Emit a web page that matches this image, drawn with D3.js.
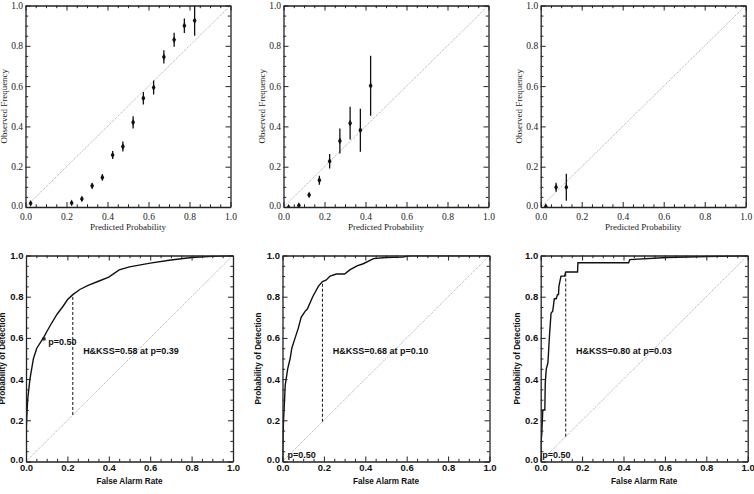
<!DOCTYPE html>
<html>
<head>
<meta charset="utf-8">
<script src="https://cdn.jsdelivr.net/npm/d3@7"></script>
<style>
  body { margin: 0; background: #fff; }
  .serif text { font-family: "Liberation Serif", "Times New Roman", serif; fill: #222; }
  .sans text { font-family: "Liberation Sans", Arial, sans-serif; font-weight: bold; fill: #111; }
  .domain { stroke: #222; stroke-width: 1.3; }
  .tick line { stroke: #222; stroke-width: 1; }
</style>
</head>
<body>
<svg id="chart" width="754" height="494"></svg>
<script>
(function () {
  'use strict';

  // reliability diagrams: bin centre, observed frequency, half error bar
  var relX1 = [0.025, 0.225, 0.275, 0.325, 0.375, 0.425, 0.475, 0.525, 0.575, 0.625, 0.675, 0.725, 0.775, 0.825];
  var relY1 = [0.018, 0.02, 0.04, 0.105, 0.147, 0.258, 0.30, 0.42, 0.54, 0.593, 0.745, 0.83, 0.90, 0.925];
  var relE1 = [0.004, 0.004, 0.005, 0.013, 0.015, 0.02, 0.025, 0.03, 0.031, 0.035, 0.033, 0.035, 0.036, 0.075];

  var relX2 = [0.025, 0.075, 0.125, 0.175, 0.225, 0.275, 0.325, 0.375, 0.425];
  var relY2 = [-0.002, 0.007, 0.06, 0.133, 0.227, 0.328, 0.416, 0.381, 0.602];
  var relE2 = [0.003, 0.005, 0.01, 0.022, 0.036, 0.062, 0.081, 0.107, 0.149];

  var relX3 = [0.025, 0.075, 0.125];
  var relY3 = [0.002, 0.098, 0.098];
  var relE3 = [0.003, 0.022, 0.067];

  // ROC curves: false alarm rate, probability of detection
  var rocF1 = [0, 0, 0.003, 0.008, 0.019, 0.036, 0.052, 0.087, 0.1, 0.12, 0.15, 0.18, 0.2, 0.226, 0.26, 0.3, 0.35, 0.4, 0.45, 0.5, 0.6, 0.7, 0.8, 0.9, 1];
  var rocH1 = [0, 0.12, 0.2, 0.3, 0.4, 0.5, 0.55, 0.605, 0.63, 0.665, 0.715, 0.755, 0.785, 0.81, 0.835, 0.855, 0.875, 0.895, 0.93, 0.945, 0.963, 0.978, 0.99, 0.996, 1];

  var rocF2 = [0, 0.002, 0.005, 0.01, 0.013, 0.025, 0.037, 0.045, 0.061, 0.077, 0.09, 0.11, 0.12, 0.146, 0.173, 0.193, 0.21, 0.23, 0.26, 0.3, 0.325, 0.36, 0.39, 0.44, 0.5, 0.58, 0.62, 0.66, 1];
  var rocH2 = [0, 0.1, 0.2, 0.3, 0.37, 0.45, 0.5, 0.55, 0.6, 0.65, 0.7, 0.73, 0.74, 0.8, 0.85, 0.873, 0.88, 0.9, 0.91, 0.91, 0.93, 0.95, 0.96, 0.985, 0.99, 0.992, 1, 1, 1];

  var rocF3 = [0, 0, 0.005, 0.01, 0.02, 0.022, 0.027, 0.035, 0.043, 0.05, 0.058, 0.066, 0.075, 0.081, 0.086, 0.088, 0.094, 0.098, 0.115, 0.121, 0.178, 0.18, 0.425, 0.43, 0.61, 1];
  var rocH3 = [0, 0.08, 0.13, 0.25, 0.25, 0.38, 0.45, 0.48, 0.62, 0.72, 0.73, 0.79, 0.79, 0.81, 0.81, 0.85, 0.88, 0.9, 0.9, 0.92, 0.92, 0.965, 0.965, 0.98, 0.99, 1];

  // best Hanssen & Kuipers skill score: false alarm rate, detection at that point
  var hkF = [0.226, 0.193, 0.121];
  var hkH = [0.81, 0.873, 0.92];
  var hkLabels = ['H&KSS=0.58 at p=0.39', 'H&KSS=0.68 at p=0.10', 'H&KSS=0.80 at p=0.03'];

  // p=0.50 marker and its label
  var p50F = [0.087, 0.004, 0.0];
  var p50H = [0.595, 0.04, 0.04];
  var p50LabelF = [0.108, 0.024, 0.007];
  var p50LabelH = [0.583, 0.03, 0.03];

  var majorTicks = [0, 0.2, 0.4, 0.6, 0.8, 1.0];
  var minorTicks = [0.05, 0.1, 0.15, 0.25, 0.3, 0.35, 0.45, 0.5, 0.55, 0.65, 0.7, 0.75, 0.85, 0.9, 0.95];

  var TOP = { lefts: [25.5, 283.5, 540.7], top: 5.5, width: 205, height: 201.5 };
  var BOTTOM = { lefts: [26, 282.5, 540.7], top: 255.5, width: 207, height: 206 };

  var svg = d3.select('#chart');
  var fmt = d3.format('.1f');

  function frame(g, x, y, w, h, xPad, yPad) {
    // labelled bottom / left axes, ticks pointing inward
    g.append('g').attr('class', 'x axis')
      .attr('transform', 'translate(0,' + h + ')')
      .call(d3.axisBottom(x).tickValues(majorTicks).tickSize(-5).tickSizeOuter(0)
        .tickPadding(xPad).tickFormat(fmt));
    g.append('g').attr('class', 'y axis')
      .call(d3.axisLeft(y).tickValues(majorTicks).tickSize(-5).tickSizeOuter(0)
        .tickPadding(yPad).tickFormat(fmt));
    g.append('g')
      .call(d3.axisTop(x).tickValues(majorTicks).tickSize(-5).tickSizeOuter(0).tickFormat(''));
    g.append('g').attr('transform', 'translate(' + w + ',0)')
      .call(d3.axisRight(y).tickValues(majorTicks).tickSize(-5).tickSizeOuter(0).tickFormat(''));

    // minor ticks
    var minors = [
      ['translate(0,' + h + ')', d3.axisBottom(x)],
      ['translate(0,0)', d3.axisTop(x)],
      ['translate(0,0)', d3.axisLeft(y)],
      ['translate(' + w + ',0)', d3.axisRight(y)]
    ];
    minors.forEach(function (m) {
      var a = g.append('g').attr('transform', m[0])
        .call(m[1].tickValues(minorTicks).tickSize(-2.7).tickFormat(''));
      a.select('.domain').remove();
    });
    g.selectAll('.tick text').attr('fill', null);
  }

  function diagonal(g, x, y) {
    g.append('line')
      .attr('x1', x(0)).attr('y1', y(0))
      .attr('x2', x(1)).attr('y2', y(1))
      .attr('stroke', '#777')
      .attr('stroke-width', 0.7)
      .attr('stroke-dasharray', '1,1.2');
  }

  function clip(g, id, w, h) {
    g.append('clipPath').attr('id', id)
      .append('rect').attr('width', w).attr('height', h);
    return g.append('g').attr('clip-path', 'url(#' + id + ')');
  }

  // ---- top row: reliability diagrams ----
  var rel = [[relX1, relY1, relE1], [relX2, relY2, relE2], [relX3, relY3, relE3]];

  rel.forEach(function (r, i) {
    var w = TOP.width, h = TOP.height;
    var x = d3.scaleLinear().domain([0, 1]).range([0, w]);
    var y = d3.scaleLinear().domain([0, 1]).range([h, 0]);
    var g = svg.append('g').attr('class', 'serif')
      .attr('transform', 'translate(' + TOP.lefts[i] + ',' + TOP.top + ')');

    var inner = clip(g, 'clipTop' + i, w, h);
    diagonal(inner, x, y);

    var pts = r[0].map(function (v, k) { return { p: v, o: r[1][k], e: r[2][k] }; });

    inner.selectAll('line.err')
      .data(pts)
      .enter().append('line')
      .attr('class', 'err')
      .attr('x1', function (d) { return x(d.p); })
      .attr('x2', function (d) { return x(d.p); })
      .attr('y1', function (d) { return y(d.o - d.e); })
      .attr('y2', function (d) { return y(d.o + d.e); })
      .attr('stroke', '#111')
      .attr('stroke-width', 1.3);

    inner.selectAll('path.pt')
      .data(pts)
      .enter().append('path')
      .attr('class', 'pt')
      .attr('transform', function (d) { return 'translate(' + x(d.p) + ',' + y(d.o) + ')'; })
      .attr('d', d3.symbol(d3.symbolDiamond, 13))
      .attr('fill', '#111');

    frame(g, x, y, w, h, 6.5, 2.5);
    g.selectAll('.tick text').style('font-size', '9.5px');
    g.select('.y.axis').selectAll('.tick text')
      .attr('dy', function (d) { return d === 0 ? '0.15em' : '0.32em'; });

    g.append('text')
      .attr('x', w / 2).attr('y', h + 23)
      .attr('text-anchor', 'middle')
      .style('font-size', '9px')
      .text('Predicted Probability');

    g.append('text')
      .attr('transform', 'translate(-22,' + (h / 2) + ') rotate(-90)')
      .attr('text-anchor', 'middle')
      .attr('dy', '0.35em')
      .style('font-size', '9px')
      .text('Observed Frequency');
  });

  // ---- bottom row: ROC curves ----
  var roc = [[rocF1, rocH1], [rocF2, rocH2], [rocF3, rocH3]];

  roc.forEach(function (r, i) {
    var w = BOTTOM.width, h = BOTTOM.height;
    var x = d3.scaleLinear().domain([0, 1]).range([0, w]);
    var y = d3.scaleLinear().domain([0, 1]).range([h, 0]);
    var g = svg.append('g').attr('class', 'sans')
      .attr('transform', 'translate(' + BOTTOM.lefts[i] + ',' + BOTTOM.top + ')');

    var inner = clip(g, 'clipBot' + i, w, h);
    diagonal(inner, x, y);

    var line = d3.line()
      .x(function (d) { return x(d[0]); })
      .y(function (d) { return y(d[1]); });

    inner.append('path')
      .datum(r[0].map(function (v, k) { return [v, r[1][k]]; }))
      .attr('d', line)
      .attr('fill', 'none')
      .attr('stroke', '#111')
      .attr('stroke-width', 1.4);

    // H&KSS marker
    inner.append('line')
      .attr('x1', x(hkF[i])).attr('x2', x(hkF[i]))
      .attr('y1', y(hkF[i])).attr('y2', y(hkH[i]))
      .attr('stroke', '#111')
      .attr('stroke-width', 1)
      .attr('stroke-dasharray', '3,2');

    if (i === 0) {
      inner.append('path')
        .attr('transform', 'translate(' + x(p50F[i]) + ',' + y(p50H[i]) + ')')
        .attr('d', d3.symbol(d3.symbolAsterisk, 14))
        .attr('fill', 'none')
        .attr('stroke', '#111')
        .attr('stroke-width', 0.9);
    }

    frame(g, x, y, w, h, 3, 2.5);
    g.selectAll('.tick text').style('font-size', '9.5px');
    g.select('.y.axis').selectAll('.tick text')
      .attr('dy', function (d) { return d === 0 ? '0.1em' : '0.32em'; });

    g.append('text')
      .attr('x', x(hkF[i] + 0.05)).attr('y', y(0.535))
      .attr('dy', '0.35em')
      .style('font-size', '9px')
      .text(hkLabels[i]);

    g.append('text')
      .attr('x', x(p50LabelF[i])).attr('y', y(p50LabelH[i]))
      .attr('dy', '0.35em')
      .style('font-size', '9px')
      .text('p=0.50');

    g.append('text')
      .attr('x', w / 2).attr('y', h + 22)
      .attr('text-anchor', 'middle')
      .style('font-size', '8.2px')
      .text('False Alarm Rate');

    g.append('text')
      .attr('transform', 'translate(-24,' + (h / 2) + ') rotate(-90)')
      .attr('text-anchor', 'middle')
      .attr('dy', '0.35em')
      .style('font-size', '8.2px')
      .text('Probability of Detection');
  });
})();
</script>
</body>
</html>
